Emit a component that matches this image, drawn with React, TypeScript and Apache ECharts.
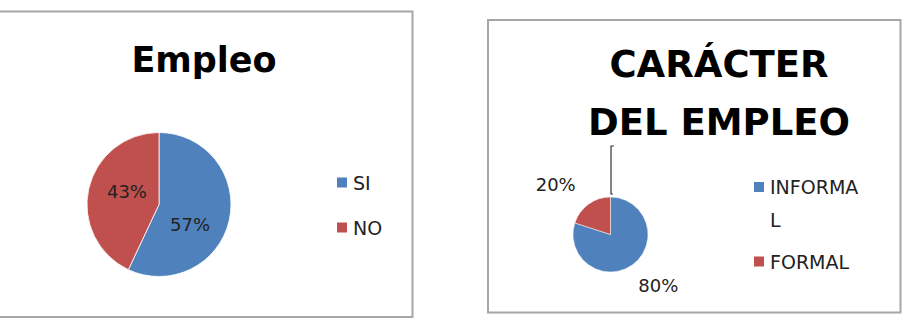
import React, { useEffect, useRef } from 'react';
import * as echarts from 'echarts';

const empleoCategories = ['SI', 'NO'];
const empleoValues = [57, 43];
const caracterCategories = ['INFORMAL', 'FORMAL'];
const caracterValues = [80, 20];
const chartTitles = ['Empleo', 'CARÁCTER\nDEL EMPLEO'];

const BLUE = '#4F81BD';
const RED = '#C0504D';
const COLORS = [BLUE, RED];
const FONT = '"DejaVu Sans", sans-serif';

const empleoLabelShift = [
  { dx: -7, dy: 11 },
  { dx: 6, dy: -4 },
];
const caracterLabelShift = [
  { dx: 35, dy: 33 },
  { dx: -42, dy: -32 },
];

export default function App() {
  const ref = useRef<HTMLDivElement>(null);
  useEffect(() => {
    document.body.style.margin = '0';
    if (!ref.current) return;
    const chart = echarts.init(ref.current, null, { renderer: 'svg' });
    const pctLabel = (p: any) => Math.round(p.percent) + '%';
    const legendBase = {
      orient: 'vertical',
      padding: 0,
      itemGap: 0,
      itemWidth: 12,
      itemHeight: 12,
      icon: 'rect',
    };
    chart.setOption({
      animation: false,
      backgroundColor: '#ffffff',
      title: [
        {
          text: chartTitles[0],
          left: 204,
          top: 40,
          padding: 0,
          textAlign: 'center',
          textStyle: { fontFamily: FONT, fontWeight: 'bold', fontSize: 35, lineHeight: 40, color: '#000' },
        },
        {
          text: chartTitles[1],
          left: 719,
          top: 35,
          padding: 0,
          textAlign: 'center',
          textStyle: { fontFamily: FONT, fontWeight: 'bold', fontSize: 37, lineHeight: 58, color: '#000' },
        },
      ],
      legend: [
        {
          ...legendBase,
          data: [empleoCategories[0]],
          left: 335,
          top: 173,
          textStyle: { fontFamily: FONT, fontSize: 19, lineHeight: 12, color: '#222' },
        },
        {
          ...legendBase,
          data: [empleoCategories[1]],
          left: 335,
          top: 218,
          textStyle: { fontFamily: FONT, fontSize: 19, lineHeight: 12, color: '#222' },
        },
        {
          ...legendBase,
          data: [caracterCategories[0]],
          left: 752,
          top: 137.5,
          formatter: (name: string) => '\n' + name,
          textStyle: {
            fontFamily: FONT,
            fontSize: 19,
            lineHeight: 33,
            width: 95,
            overflow: 'breakAll',
            color: '#222',
          },
        },
        {
          ...legendBase,
          data: [caracterCategories[1]],
          left: 752,
          top: 252,
          textStyle: { fontFamily: FONT, fontSize: 19, lineHeight: 12, color: '#222' },
        },
      ],
      graphic: [
        {
          type: 'rect',
          shape: { x: -2, y: 11.5, width: 414.5, height: 305.5 },
          style: { fill: 'none', stroke: '#a6a6a6', lineWidth: 2 },
          silent: true,
        },
        {
          type: 'rect',
          shape: { x: 488, y: 20, width: 412.5, height: 292.5 },
          style: { fill: 'none', stroke: '#a6a6a6', lineWidth: 2 },
          silent: true,
        },
        {
          type: 'polyline',
          shape: { points: [[614, 146], [611, 146], [611, 194], [613, 194]] },
          style: { fill: 'none', stroke: '#333', lineWidth: 1.2 },
          silent: true,
        },
      ],
      series: [
        {
          type: 'pie',
          center: [159, 204.5],
          radius: 72,
          startAngle: 90,
          clockwise: true,
          itemStyle: { borderColor: '#fff', borderWidth: 0.8 },
          label: {
            position: 'inside',
            formatter: pctLabel,
            fontFamily: FONT,
            fontSize: 18,
            color: '#222',
          },
          labelLine: { show: false },
          labelLayout: (p: any) => empleoLabelShift[p.dataIndex],
          data: empleoCategories.map((n, i) => ({
            name: n,
            value: empleoValues[i],
            itemStyle: { color: COLORS[i] },
          })),
        },
        {
          type: 'pie',
          center: [610.5, 234.5],
          radius: 37.5,
          startAngle: 90,
          clockwise: true,
          itemStyle: { borderColor: '#fff', borderWidth: 0.5 },
          label: {
            position: 'inside',
            formatter: pctLabel,
            fontFamily: FONT,
            fontSize: 18,
            color: '#222',
          },
          labelLine: { show: false },
          labelLayout: (p: any) => caracterLabelShift[p.dataIndex],
          data: caracterCategories.map((n, i) => ({
            name: n,
            value: caracterValues[i],
            itemStyle: { color: COLORS[i] },
          })),
        },
      ],
    });
    return () => chart.dispose();
  }, []);
  return <div ref={ref} style={{ width: 907, height: 329 }} />;
}
